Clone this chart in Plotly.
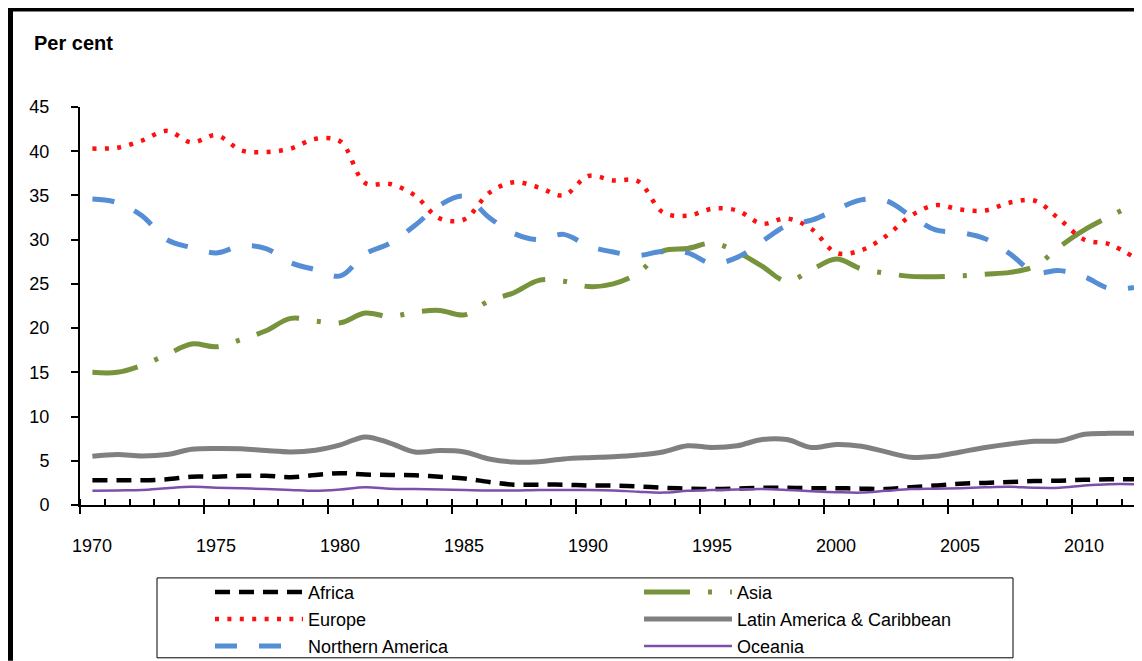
import plotly.graph_objects as go

years = list(range(1970, 2013))

africa = [2.8, 2.8, 2.8, 2.9, 3.2, 3.2, 3.3, 3.3, 3.15, 3.4, 3.6, 3.45, 3.4, 3.35, 3.2,
          3.0, 2.6, 2.3, 2.3, 2.3, 2.2, 2.2, 2.1, 1.95, 1.85, 1.8, 1.85, 1.95, 1.95, 1.9,
          1.9, 1.85, 1.8, 2.0, 2.2, 2.4, 2.5, 2.6, 2.7, 2.75, 2.85, 2.9, 2.9]
asia = [15.0, 15.0, 15.8, 17.0, 18.2, 17.9, 18.7, 19.7, 21.1, 20.8, 20.6, 21.7, 21.3, 21.8, 22.0,
        21.5, 23.1, 24.0, 25.4, 25.3, 24.7, 25.0, 26.2, 28.7, 29.0, 29.6, 28.6, 27.0, 25.3, 26.6,
        27.8, 26.7, 26.2, 25.85, 25.8, 25.9, 26.1, 26.3, 27.0, 29.2, 31.1, 32.6, 34.0]
europe = [40.3, 40.4, 41.2, 42.3, 41.0, 41.8, 40.1, 39.9, 40.3, 41.4, 41.1, 36.4, 36.3, 35.0, 32.4,
          32.3, 35.3, 36.5, 35.9, 35.0, 37.2, 36.7, 36.6, 33.1, 32.7, 33.5, 33.3, 31.8, 32.4, 31.2,
          28.5, 28.8, 30.4, 32.7, 33.9, 33.4, 33.3, 34.2, 34.4, 32.3, 30.0, 29.5, 28.0]
latin = [5.5, 5.7, 5.55, 5.7, 6.3, 6.4, 6.35, 6.15, 6.0, 6.2, 6.8, 7.7, 7.0, 6.0, 6.15,
         6.0, 5.2, 4.85, 4.9, 5.2, 5.35, 5.45, 5.65, 6.0, 6.7, 6.5, 6.7, 7.4, 7.4, 6.5,
         6.85, 6.65, 6.0, 5.4, 5.5, 6.0, 6.5, 6.9, 7.2, 7.25, 8.0, 8.1, 8.1]
n_america = [34.6, 34.2, 32.7, 30.0, 29.1, 28.5, 29.3, 29.0, 27.4, 26.6, 25.9, 28.4, 29.6, 31.6, 33.9,
             34.9, 32.5, 30.7, 30.0, 30.6, 29.3, 28.6, 28.2, 28.7, 28.5, 27.3, 28.0, 29.8, 31.6, 32.2,
             33.4, 34.5, 34.4, 32.7, 31.1, 30.8, 30.1, 28.4, 26.3, 26.5, 25.8, 24.5, 24.6]
oceania = [1.6, 1.65, 1.7, 1.9, 2.05, 1.95, 1.9, 1.8, 1.7, 1.6, 1.75, 2.0, 1.85, 1.8, 1.75,
           1.7, 1.65, 1.65, 1.7, 1.7, 1.7, 1.65, 1.5, 1.4, 1.6, 1.7, 1.75, 1.8, 1.7, 1.55,
           1.45, 1.4, 1.6, 1.8, 1.85, 1.9, 2.0, 2.05, 1.95, 1.95, 2.2, 2.35, 2.35]

label_years = [1970, 1975, 1980, 1985, 1990, 1995, 2000, 2005, 2010]
y_ticks = [0, 5, 10, 15, 20, 25, 30, 35, 40, 45]

# The page body has an 8px default margin; the figure is sized to compensate.
BODY = 8
SCREEN_W, SCREEN_H = 1142, 661
W, H = SCREEN_W - BODY, SCREEN_H - BODY
AX_LEFT, AX_TOP, AX_BOTTOM = 80, 106.5, 505          # screen pixels of plot area
L, T, B, R = AX_LEFT - BODY, AX_TOP - BODY, SCREEN_H - AX_BOTTOM, 0
PW, PH = W - L - R, H - T - B
PX_PER_YEAR = 24.8


def px(x):
    return (x - AX_LEFT) / PW


def py(y):
    return (AX_BOTTOM - y) / PH


FONT = "Liberation Sans"

series = [
    ("Africa", africa, dict(color="black", width=4.5, dash="15px,9px"), "legend"),
    ("Asia", asia, dict(color="#77933C", width=5, dash="46px,18px,4px,18px"), "legend2"),
    ("Europe", europe, dict(color="#FF1010", width=4.5, dash="4px,8.4px"), "legend"),
    ("Latin America & Caribbean", latin, dict(color="#808080", width=5), "legend2"),
    ("Northern America", n_america, dict(color="#558ED5", width=5, dash="22px,22px"), "legend"),
    ("Oceania", oceania, dict(color="#7E4FA8", width=2.5), "legend2"),
]

fig = go.Figure()
for name, vals, line, leg in series:
    fig.add_trace(go.Scatter(
        x=years, y=vals, name=name, mode="lines",
        line=dict(shape="spline", smoothing=1.0, **line),
        legend=leg, legendgroup=name,
    ))

x_end = 1969.5 + PW / PX_PER_YEAR

legend_common = dict(
    yanchor="top", xanchor="left", y=py(574),
    bgcolor="rgba(0,0,0,0)", borderwidth=0, itemwidth=88,
    font=dict(family=FONT, size=18, color="black"), tracegroupgap=0.6,
)

fig.update_layout(
    template="none",
    width=W, height=H,
    margin=dict(l=L, r=R, t=T, b=B, pad=0, autoexpand=False),
    paper_bgcolor="white", plot_bgcolor="white",
    font=dict(family=FONT, size=18, color="black"),
    showlegend=True,
    xaxis=dict(
        range=[1969.5, x_end], showgrid=False, zeroline=False, automargin=False,
        showline=True, linecolor="black", linewidth=2,
        tickmode="array", tickvals=[y - 0.5 for y in label_years],
        ticktext=[str(y) for y in label_years],
        ticks="outside", ticklen=7, tickwidth=2, tickcolor="black",
        ticklabelshift=12, ticklabelstandoff=16,
        tickfont=dict(family=FONT, size=18, color="black"),
        minor=dict(tickmode="array", tickvals=[y - 0.5 for y in range(1970, 2014)],
                   ticks="inside", ticklen=6, tickwidth=1.5, tickcolor="black",
                   showgrid=False),
    ),
    yaxis=dict(
        range=[0, 45], showgrid=False, zeroline=False, automargin=False,
        showline=True, linecolor="black", linewidth=2,
        tickmode="array", tickvals=y_ticks,
        ticks="outside", ticklen=7, tickwidth=2, tickcolor="black",
        ticklabelstandoff=18,
        tickfont=dict(family=FONT, size=18, color="black"),
    ),
    legend=dict(x=px(210), **legend_common),
    legend2=dict(x=px(639), **legend_common),
    annotations=[
        dict(text="<b>Per cent</b>", x=px(32), y=py(42), xref="paper", yref="paper",
             xanchor="left", yanchor="middle", showarrow=False,
             font=dict(family=FONT, size=20, color="black")),
    ],
    shapes=[
        dict(type="rect", xref="paper", yref="paper", x0=px(7), x1=px(13), y0=py(661), y1=py(7),
             fillcolor="black", line=dict(width=0)),
        dict(type="rect", xref="paper", yref="paper", x0=px(7), x1=px(1142), y0=py(11), y1=py(7),
             fillcolor="black", line=dict(width=0)),
        dict(type="rect", xref="paper", yref="paper", x0=px(157), x1=px(1013), y0=py(658), y1=py(578),
             fillcolor="rgba(0,0,0,0)", line=dict(color="black", width=1)),
    ],
)

fig.write_html("out.html")
